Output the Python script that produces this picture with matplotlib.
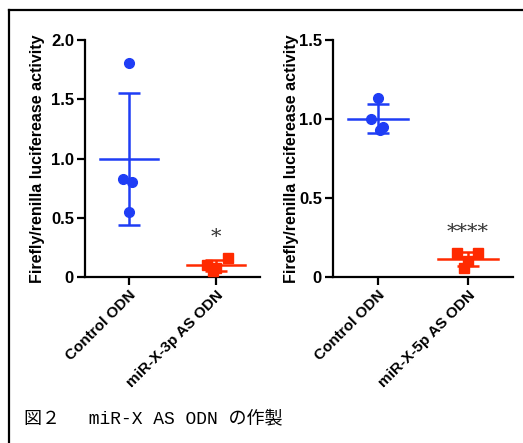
import matplotlib.pyplot as plt
import matplotlib.lines as mlines
import numpy as np

# データ
groups_3p = ["Control ODN", "miR-X-3p AS ODN"]
ctrl_3p = [1.81, 0.83, 0.80, 0.55]
ctrl_3p_x = [0.0, -0.06, 0.04, 0.0]
as_3p = [0.16, 0.10, 0.08, 0.05]
as_3p_x = [0.13, -0.1, 0.0, -0.04]

groups_5p = ["Control ODN", "miR-X-5p AS ODN"]
ctrl_5p = [1.13, 1.00, 0.95, 0.93]
ctrl_5p_x = [0.0, -0.08, 0.06, 0.02]
as_5p = [0.15, 0.15, 0.10, 0.06]
as_5p_x = [-0.12, 0.11, 0.0, -0.04]

sig_3p = "*"
sig_5p = "****"
caption = "図２　 miR-X AS ODN の作製"

blue = "#1f3df5"
red = "#ff2a00"

plt.rcParams['font.family'] = ['Liberation Sans', 'DejaVu Sans']
fig = plt.figure(figsize=(5.23, 4.43), dpi=100)


def scatter_panel(ax, ctrl, ctrl_x, treat, treat_x, labels, ymax, yticks, yticklabels, sig, sig_y, lab_x):
    for i, (vals, xs, col, mk) in enumerate([(ctrl, ctrl_x, blue, 'o'), (treat, treat_x, red, 's')]):
        v = np.array(vals)
        m = v.mean()
        sd = v.std(ddof=1)
        ax.plot(i + np.array(xs), v, mk, color=col, markersize=7, zorder=3)
        ax.plot([i - 0.33, i + 0.33], [m, m], color=col, lw=1.8)
        ax.errorbar([i], [m], yerr=[sd], color=col, lw=1.8, capsize=8, capthick=1.8, fmt='none')
    ax.text(1, sig_y, sig, ha='center', va='center', fontsize=15, color='#333333', family='DejaVu Serif')
    ax.set_xlim(-0.5, 1.5)
    ax.set_ylim(0, ymax)
    ax.set_yticks(yticks)
    ax.set_yticklabels(yticklabels, fontweight='bold', fontsize=12)
    ax.set_xticks([0, 1])
    ax.set_xticklabels(labels, rotation=45, ha='right', rotation_mode='anchor', fontweight='bold', fontsize=11)
    ax.spines['top'].set_visible(False)
    ax.spines['right'].set_visible(False)
    ax.spines['left'].set_linewidth(1.6)
    ax.spines['bottom'].set_linewidth(1.6)
    ax.tick_params(width=1.6, length=6, pad=2)
    ax.set_ylabel("Firefly/renilla luciferease activity", fontweight='bold', fontsize=11.5, va='center')
    ax.yaxis.set_label_coords(lab_x, 0.5)


ax1 = fig.add_axes([0.1625, 0.3747, 0.3345, 0.535])
scatter_panel(ax1, ctrl_3p, ctrl_3p_x, as_3p, as_3p_x, groups_3p, 2.0,
              [0, 0.5, 1.0, 1.5, 2.0], ["0", "0.5", "1.0", "1.5", "2.0"], sig_3p, 0.33, -0.274)

ax2 = fig.add_axes([0.6367, 0.3747, 0.3443, 0.535])
scatter_panel(ax2, ctrl_5p, ctrl_5p_x, as_5p, as_5p_x, groups_5p, 1.5,
              [0, 0.5, 1.0, 1.5], ["0", "0.5", "1.0", "1.5"], sig_5p, 0.28, -0.228)

# 枠線
fig.add_artist(mlines.Line2D([0.017, 0.017], [0, 0.977], color='black', lw=1.6))
fig.add_artist(mlines.Line2D([0.017, 1.0], [0.977, 0.977], color='black', lw=1.6))

fig.text(0.045, 0.055, caption, fontsize=13,
         family=['Liberation Mono', 'Noto Sans CJK JP'], va='center')

fig.savefig('out.png', dpi=100)
